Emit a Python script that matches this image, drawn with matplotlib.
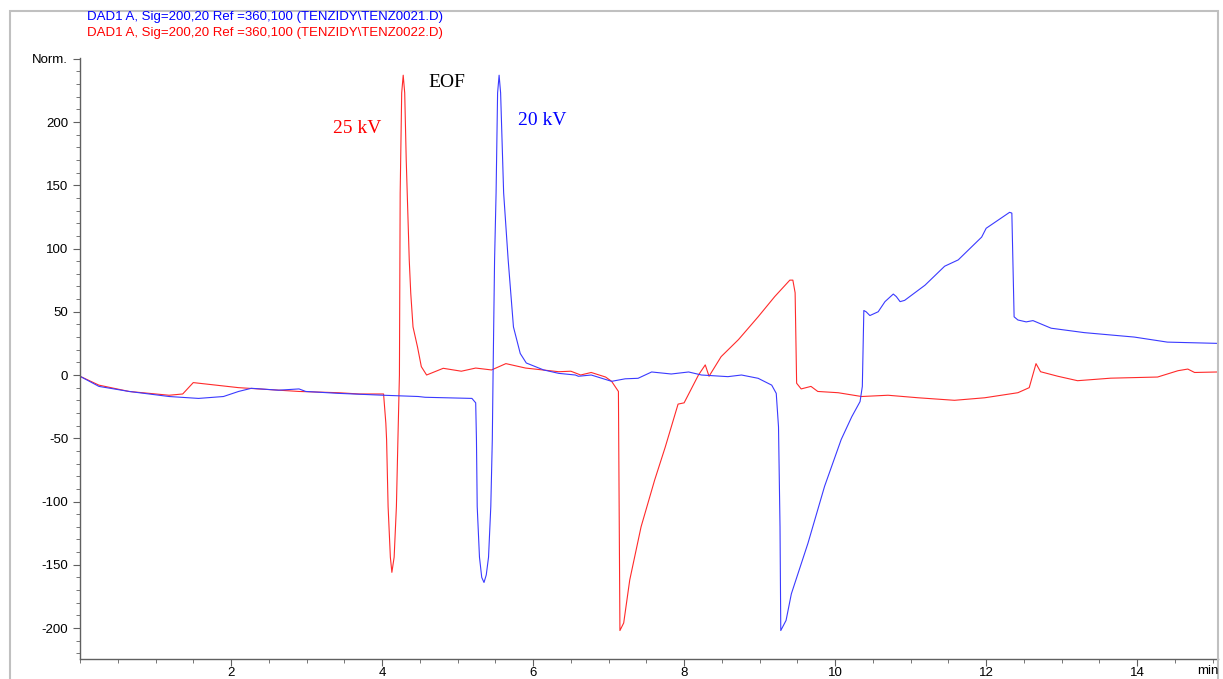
import matplotlib
matplotlib.use('Agg')
import matplotlib.pyplot as plt
from matplotlib.patches import Rectangle
from matplotlib.ticker import MultipleLocator

# 20 kV run (TENZ0021) - blue trace
t_blue = [0.0, 0.25, 0.65, 1.18, 1.57, 1.9, 2.1, 2.27, 2.63, 2.9, 2.99, 3.42, 4.02, 4.48,
          4.57, 5.19, 5.24, 5.25, 5.26, 5.29, 5.32, 5.35, 5.38, 5.41, 5.44, 5.46, 5.47,
          5.49, 5.51, 5.53, 5.55, 5.57, 5.61, 5.67, 5.74, 5.83, 5.91, 6.14, 6.34, 6.56,
          6.6, 6.77, 7.04, 7.22, 7.39, 7.57, 7.83, 8.06, 8.23, 8.58, 8.76, 8.98, 9.16,
          9.22, 9.25, 9.27, 9.28, 9.35, 9.42, 9.64, 9.86, 10.08, 10.22, 10.33, 10.36,
          10.38, 10.41, 10.46, 10.57, 10.66, 10.77, 10.81, 10.86, 10.92, 11.19, 11.45,
          11.63, 11.94, 12.0, 12.16, 12.31, 12.34, 12.37, 12.42, 12.53, 12.62, 12.86,
          13.3, 13.96, 14.4, 15.07]
y_blue = [-1, -9, -13, -17, -18.5, -17, -13, -10.5, -12, -11, -13, -14.5, -16, -17,
          -17.6, -18.5, -22, -51, -104, -144, -160, -164, -158, -144, -104, -51, 0,
          91, 144, 223, 237, 223, 144, 91, 38, 17, 9.5, 4, 1.3, 0,
          -1, 0, -5, -3, -2.6, 2.4, 0.8, 2.4, 0, -1.3, 0, -2.6, -8,
          -14.5, -41, -120, -202, -194, -173, -133, -88, -51, -33, -21, -9,
          51, 50, 47, 50, 58, 64, 62, 58, 59, 71, 86,
          91, 109, 116, 122.5, 128.6, 128, 46, 43.5, 42, 43, 37,
          33.5, 30, 26, 25]

# 25 kV run (TENZ0022) - red trace
t_red = [0.0, 0.25, 0.65, 1.18, 1.36, 1.5, 2.1, 2.9, 3.42, 3.7, 4.02, 4.05, 4.06, 4.08,
         4.11, 4.13, 4.16, 4.19, 4.21, 4.23, 4.24, 4.26, 4.28, 4.30, 4.32, 4.36, 4.38,
         4.41, 4.47, 4.52, 4.59, 4.81, 5.05, 5.24, 5.45, 5.64, 5.9, 6.34, 6.5, 6.63,
         6.77, 6.96, 7.04, 7.13, 7.15, 7.2, 7.28, 7.43, 7.61, 7.75, 7.92, 8.0, 8.19,
         8.28, 8.33, 8.49, 8.72, 8.98, 9.2, 9.4, 9.44, 9.47, 9.49, 9.55, 9.68, 9.77,
         10.04, 10.35, 10.7, 11.1, 11.58, 11.98, 12.42, 12.57, 12.66, 12.72, 12.95,
         13.21, 13.65, 14.27, 14.54, 14.67, 14.76, 15.07]
y_red = [-1, -8, -13, -16, -15, -6, -10, -13, -14, -15, -15, -38, -51, -104,
         -144, -156, -144, -104, -51, 0, 144, 223, 237, 223, 170, 91, 64.6,
         38, 22, 6.6, 0, 5.3, 3, 5.5, 4, 9, 5.5, 2.6, 3, 0,
         2, -1.6, -5, -13, -202, -196, -162, -120, -83, -57, -23, -22, 0,
         8, -1, 14.5, 28, 46, 62, 75, 75, 65, -6.5, -11, -9, -13,
         -14, -17, -16, -18, -20, -18, -14, -10, 9, 2.6, -1,
         -4.5, -2.5, -1.6, 3.4, 4.7, 2, 2.4]

y_ticks = [-200, -150, -100, -50, 0, 50, 100, 150, 200, 250]
y_labels = ['-200', '-150', '-100', '-50', '0', '50', '100', '150', '200', 'Norm.']
x_ticks = [2, 4, 6, 8, 10, 12, 14]

header_blue = 'DAD1 A, Sig=200,20 Ref =360,100 (TENZIDY\\TENZ0021.D)'
header_red = 'DAD1 A, Sig=200,20 Ref =360,100 (TENZIDY\\TENZ0022.D)'

plt.rcParams['font.family'] = ['Liberation Sans', 'DejaVu Sans']

fig = plt.figure(figsize=(12.23, 6.79), dpi=100)
W, H = 1223, 679
ax = fig.add_axes([80 / W, 1 - 659 / H, (1218 - 80) / W, (659 - 58) / H])

# grey frame round the whole printout
fig.patches.append(Rectangle((10 / W, -0.1), (1218 - 10) / W, 1.1 - 11 / H,
                             transform=fig.transFigure, fill=False,
                             edgecolor='#c0c0c0', linewidth=1.5))

ax.plot(t_red, y_red, color='#ff2a2a', linewidth=0.8)
ax.plot(t_blue, y_blue, color='#3a3aff', linewidth=0.8)

ax.set_xlim(0, 15.07)
ax.set_ylim(-224.5, 250.6)

ax.set_yticks(y_ticks)
ax.set_yticklabels(y_labels)
ax.set_xticks(x_ticks)
ax.yaxis.set_minor_locator(MultipleLocator(10))
ax.xaxis.set_minor_locator(MultipleLocator(0.5))

for s in ['top', 'right']:
    ax.spines[s].set_visible(False)
for s in ['left', 'bottom']:
    ax.spines[s].set_color('#606060')
    ax.spines[s].set_linewidth(1.0)

ax.tick_params(which='major', length=5, color='#606060', labelsize=9.5)
ax.tick_params(which='minor', length=3, color='#606060')
ax.tick_params(axis='x', which='major', pad=1)

fig.text(1219 / W, 1 - 665 / H, 'min', ha='right', va='top', fontsize=9.5)

# header lines
fig.text(87 / W, 1 - 17 / H, header_blue, color='blue', fontsize=9.5, va='center')
fig.text(87 / W, 1 - 33 / H, header_red, color='red', fontsize=9.5, va='center')

# peak labels
serif = ['Liberation Serif', 'DejaVu Serif']
ax.text(3.67, 195, '25 kV', color='red', fontsize=14, family=serif, ha='center', va='center')
ax.text(4.86, 231, 'EOF', color='black', fontsize=14, family=serif, ha='center', va='center')
ax.text(6.12, 201, '20 kV', color='blue', fontsize=14, family=serif, ha='center', va='center')

fig.savefig('out.png', dpi=100)
